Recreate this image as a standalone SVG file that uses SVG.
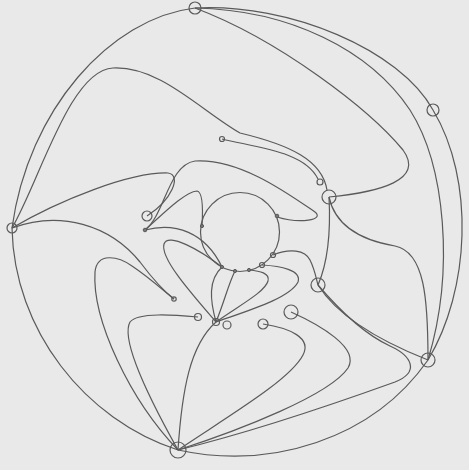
<svg xmlns="http://www.w3.org/2000/svg" width="469" height="470" viewBox="0 0 469 470">
<style>
.e{fill:none;stroke:#5a5a5a;stroke-width:1.2}
.n{fill:none;stroke:#5a5a5a;stroke-width:1.2}
.d{fill:#777;stroke:#5a5a5a;stroke-width:1}
</style>
<rect width="469" height="470" fill="#e8e9e8"/>
<g id="connectors">
<path class="e" d="M195,8 C110,18 28,110 12,228"/>
<path class="e" d="M12,228 C14,330 85,420 178,450"/>
<path class="e" d="M178,450 C270,470 372,440 428,360"/>
<path class="e" d="M428,360 C470,290 475,180 433,110"/>
<path class="e" d="M433,110 C400,50 290,3 195,8"/>
<path class="e" d="M195,8 C290,10 370,50 410,110 C445,165 455,270 428,360"/>
<path class="e" d="M195,8 C280,40 370,110 403,150 C425,180 380,192 329,197"/>
<path class="e" d="M329,197 C335,225 360,240 395,246 C425,252 428,300 428,360"/>
<path class="e" d="M329,197 C331,235 328,262 318,285"/>
<path class="e" d="M318,285 C340,320 390,345 428,360"/>
<path class="e" d="M178,450 C260,430 345,400 395,382 C420,372 412,356 390,346 C360,332 335,305 318,285"/>
<path class="e" d="M178,450 C240,430 330,395 348,368 C360,348 320,325 291,312"/>
<path class="e" d="M178,450 C230,415 290,380 303,355 C312,338 290,328 263,324"/>
<path class="e" d="M178,450 C150,400 120,340 130,322 C138,312 175,315 198,317"/>
<path class="e" d="M178,450 C130,400 92,320 95,272 C97,252 118,256 132,266 C150,278 165,292 174,299"/>
<path class="e" d="M178,450 C182,390 190,345 216,322"/>
<path class="e" d="M12,228 C60,210 110,225 140,262 C155,282 165,292 174,299"/>
<path class="e" d="M12,228 C60,200 130,172 168,173 C182,175 172,200 147,216"/>
<path class="e" d="M12,228 C40,180 70,70 113,68 C160,66 200,110 240,133 C290,145 322,160 327,190"/>
<path class="e" d="M222,139 C260,148 305,152 318,179"/>
<path class="e" d="M145,230 C165,215 168,165 195,161 C240,158 290,195 315,212 C325,220 300,224 277,217"/>
<path class="e" d="M145,230 C165,212 185,192 197,191 C203,192 203,210 202,226"/>
<path class="e" d="M145,230 C175,222 205,232 222,267"/>
<path class="e" d="M216,322 C190,292 160,258 164,244 C168,232 200,250 222,267"/>
<path class="e" d="M216,322 C210,300 208,280 222,267"/>
<path class="e" d="M216,322 C225,300 228,285 235,271"/>
<path class="e" d="M216,322 C250,310 290,298 298,282 C302,270 280,266 262,265"/>
<path class="e" d="M216,322 C240,305 265,292 268,281 C270,273 260,271 249,270"/>
<path class="e" d="M273,255 C290,248 305,250 310,260 C315,270 316,278 318,285"/>
</g>
<g id="hub"><circle class="n" cx="240" cy="232" r="39.5"/></g>
<g id="nA"><circle class="n" cx="195" cy="8" r="6"/></g>
<g id="nB"><circle class="n" cx="433" cy="110" r="6"/></g>
<g id="nC"><circle class="n" cx="12" cy="228" r="5"/></g>
<g id="nD"><circle class="n" cx="178" cy="450" r="8"/></g>
<g id="nE"><circle class="n" cx="428" cy="360" r="7"/></g>
<g id="nF"><circle class="n" cx="329" cy="197" r="7"/></g>
<g id="nf"><circle class="n" cx="320" cy="182" r="3"/></g>
<g id="nG"><circle class="n" cx="318" cy="285" r="7"/></g>
<g id="nH"><circle class="n" cx="291" cy="312" r="7"/></g>
<g id="nI"><circle class="n" cx="263" cy="324" r="5"/></g>
<g id="nJ"><circle class="n" cx="147" cy="216" r="5"/></g>
<g id="nj"><circle class="d" cx="145" cy="230" r="1.8"/></g>
<g id="nk"><circle class="n" cx="222" cy="139" r="2.5"/></g>
<g id="nl"><circle class="n" cx="174" cy="299" r="2.2"/></g>
<g id="nm"><circle class="n" cx="198" cy="317" r="3.5"/></g>
<g id="nK"><circle class="n" cx="216" cy="322" r="3.5"/></g>
<g id="nn"><circle class="n" cx="227" cy="325" r="4"/></g>
<g id="p1"><circle class="d" cx="277" cy="216" r="1.8"/></g>
<g id="p2"><circle class="n" cx="273" cy="255" r="2.5"/></g>
<g id="p3"><circle class="n" cx="262" cy="265" r="2.5"/></g>
<g id="p4"><circle class="d" cx="249" cy="270" r="1.6"/></g>
<g id="p5"><circle class="d" cx="235" cy="271" r="1.6"/></g>
<g id="p6"><circle class="d" cx="222" cy="267" r="1.6"/></g>
<g id="p7"><circle class="d" cx="202" cy="226" r="1.6"/></g>
</svg>
